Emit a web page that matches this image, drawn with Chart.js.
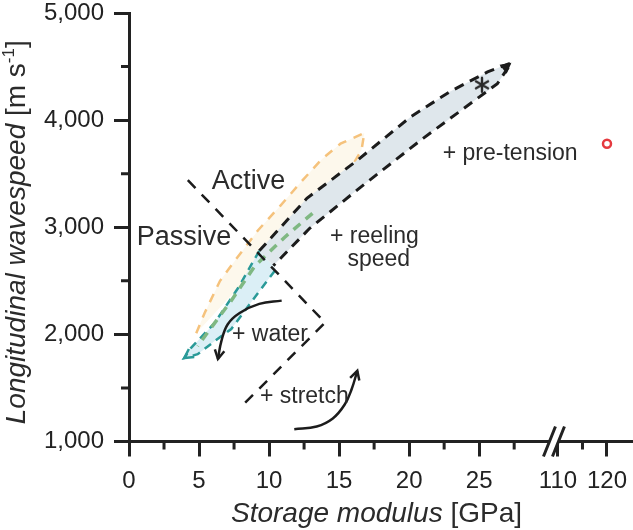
<!DOCTYPE html>
<html>
<head>
<meta charset="utf-8">
<script src="https://cdn.jsdelivr.net/npm/chart.js@4.4.1/dist/chart.umd.min.js"></script>
<style>
  html, body { margin: 0; padding: 0; background: #fff; }
</style>
</head>
<body>
<canvas id="graph" width="633" height="530"></canvas>
<script>
// storage modulus [GPa] vs longitudinal wavespeed [m/s]
const yTicks = [1000, 2000, 3000, 4000, 5000];
const yMinor = [1500, 2500, 3500, 4500];
const xTicks = [0, 5, 10, 15, 20, 25];
const xMinor = [2.5, 7.5, 12.5, 17.5, 22.5, 27.5];
const x2Ticks = [110, 120];
const x2Minor = [115];

// grey band (black dashed), upper edge -> tip -> lower edge
const bandX = [9.3, 12.7, 16.3, 20.1, 22.9, 25.6, 27.3, 26.3, 21.0, 16.5, 12.9, 10.3];
const bandY = [2780, 3270, 3625, 4030, 4265, 4450, 4535, 4340, 3830, 3370, 2990, 2640];
// passive region (teal dashed)
const passX = [9.3, 7.8, 6.1, 4.4, 3.95, 4.9, 6.05, 7.3, 8.8, 10.5];
const passY = [2780, 2435, 2105, 1870, 1780, 1815, 1930, 2050, 2315, 2610];
// active region (orange dashed)
const actX = [4.8, 5.4, 6.5, 7.4, 9.2, 10.8, 12.4, 13.8, 15.1, 16.8, 16.6, 16.1, 12.7, 9.3, 7.8, 6.1, 5.0];
const actY = [2010, 2200, 2500, 2660, 2970, 3200, 3440, 3640, 3780, 3880, 3720, 3610, 3270, 2780, 2435, 2105, 1890];
// green centre line
const midX = [13.1, 11.1, 9.0, 7.3, 5.6, 4.9];
const midY = [3130, 2905, 2640, 2315, 2015, 1890];
// active / passive divider
const divX = [4.2, 14.0, 7.9];
const divY = [3440, 2110, 1310];
// curved arrows
const waterX = [10.9, 9.3, 7.9, 7.05, 6.6, 6.35];
const waterY = [2315, 2285, 2200, 2095, 1940, 1770];
const stretchX = [11.8, 13.4, 14.55, 15.4, 15.9, 16.3];
const stretchY = [1115, 1140, 1215, 1345, 1490, 1660];
// single marks
const starX = [25.2], starY = [4330];
const redX = [120], redY = [3780];

const ink = '#222';
const txt = '#2b2b2b';
const fam = '"Liberation Sans", Arial, sans-serif';
Chart.defaults.font.family = fam;

const pts = (xs, ys) => xs.map((x, i) => ({ x: x, y: ys[i] }));

// asterisk marker
const star = document.createElement('canvas');
star.width = star.height = 20;
const sc = star.getContext('2d');
sc.strokeStyle = '#2a2a2a'; sc.lineWidth = 2.4; sc.lineCap = 'round';
sc.beginPath();
for (let k = 0; k < 3; k++) {
  const a = Math.PI / 2 + k * Math.PI / 3;
  sc.moveTo(10 - Math.cos(a) * 7, 10 - Math.sin(a) * 7);
  sc.lineTo(10 + Math.cos(a) * 7, 10 + Math.sin(a) * 7);
}
sc.stroke();

const notes = [
  { t: 'Active', x: 5.9, y: 3360, size: 27 },
  { t: 'Passive', x: 0.55, y: 2830, size: 27 },
  { t: '+ reeling', x: 14.35, y: 2855, size: 23 },
  { t: 'speed', x: 15.6, y: 2640, size: 23 },
  { t: '+ pre-tension', x: 22.4, y: 3625, size: 23 },
  { t: '+ water', x: 7.35, y: 1940, size: 23 },
  { t: '+ stretch', x: 9.35, y: 1355, size: 23 }
];

function head(ctx, tip, from, len, filled, color) {
  const a = Math.atan2(tip.y - from.y, tip.x - from.x), h = 0.5;
  ctx.strokeStyle = color; ctx.fillStyle = color; ctx.lineWidth = 2.5;
  ctx.setLineDash([]);
  ctx.beginPath();
  ctx.moveTo(tip.x - len * Math.cos(a - h), tip.y - len * Math.sin(a - h));
  ctx.lineTo(tip.x, tip.y);
  ctx.lineTo(tip.x - len * Math.cos(a + h), tip.y - len * Math.sin(a + h));
  if (filled) { ctx.closePath(); ctx.fill(); } else { ctx.stroke(); }
}

function runs(ctx, parts, x0, y0) {
  let w = 0;
  parts.forEach(p => { ctx.font = p.f; w += ctx.measureText(p.t).width; });
  let x = x0 - w / 2;
  parts.forEach(p => { ctx.font = p.f; ctx.fillText(p.t, x, y0 + (p.dy || 0)); x += ctx.measureText(p.t).width; });
}

const decor = {
  id: 'decor',
  afterDatasetsDraw(chart) {
    const { ctx, chartArea: a, scales } = chart;
    const { x, x2, y } = scales;
    ctx.save();

    // arrow heads
    const m = i => chart.getDatasetMeta(i).data;
    const band = m(1), pass = m(2), water = m(5), stretch = m(6);
    const mid = (p, q) => ({ x: (p.x + q.x) / 2, y: (p.y + q.y) / 2 });
    head(ctx, band[6], mid(band[5], band[7]), 12, true, '#1c1c1c');
    head(ctx, pass[4], mid(pass[3], pass[5]), 10, false, '#2a9a98');
    head(ctx, water[water.length - 1], water[water.length - 2], 10, false, '#1c1c1c');
    head(ctx, stretch[stretch.length - 1], stretch[stretch.length - 2], 10, false, '#1c1c1c');

    // minor ticks
    ctx.strokeStyle = ink; ctx.lineWidth = 3;
    ctx.beginPath();
    yMinor.forEach(v => { const p = y.getPixelForValue(v); ctx.moveTo(a.left - 8, p); ctx.lineTo(a.left, p); });
    xMinor.forEach(v => { const p = x.getPixelForValue(v); ctx.moveTo(p, a.bottom); ctx.lineTo(p, a.bottom + 8); });
    x2Minor.forEach(v => { const p = x2.getPixelForValue(v); ctx.moveTo(p, a.bottom); ctx.lineTo(p, a.bottom + 8); });
    ctx.stroke();

    // axis break
    const bx = x.right, by = a.bottom, s = 0.4;
    ctx.fillStyle = '#fff';
    ctx.beginPath();
    ctx.moveTo(bx - 4.5 + s * 3, by - 3); ctx.lineTo(bx + 4.5 + s * 3, by - 3);
    ctx.lineTo(bx + 4.5 - s * 3, by + 3); ctx.lineTo(bx - 4.5 - s * 3, by + 3);
    ctx.closePath(); ctx.fill();
    ctx.beginPath();
    [-4.5, 4.5].forEach(o => {
      ctx.moveTo(bx + o - s * 15, by + 15); ctx.lineTo(bx + o + s * 15, by - 15);
    });
    ctx.stroke();

    // annotations
    ctx.fillStyle = txt; ctx.textBaseline = 'alphabetic'; ctx.textAlign = 'left';
    notes.forEach(n => {
      ctx.font = n.size + 'px ' + fam;
      ctx.fillText(n.t, x.getPixelForValue(n.x), y.getPixelForValue(n.y));
    });

    // axis titles
    const big = '28px ' + fam, it = 'italic 28px ' + fam, sup = '17px ' + fam;
    runs(ctx, [{ t: 'Storage modulus', f: it }, { t: ' [GPa]', f: big }], (a.left + a.right) / 2 - 4, 522);
    ctx.translate(25, (a.top + a.bottom) / 2 + 5);
    ctx.rotate(-Math.PI / 2);
    runs(ctx, [{ t: 'Longitudinal wavespeed', f: it }, { t: ' [m s', f: big },
               { t: '-1', f: sup, dy: -11 }, { t: ']', f: big }], 0, 0);
    ctx.restore();
  }
};

const tickFont = { size: 24, family: fam };
const xScale = (min, max, ticks, weight) => ({
  type: 'linear', position: 'bottom', stack: 'xb', stackWeight: weight,
  min: min, max: max,
  afterBuildTicks: s => { s.ticks = ticks.map(v => ({ value: v })); },
  afterFit: s => { s.height = 50.5; s.paddingLeft = 0; s.paddingRight = 0; },
  ticks: { font: tickFont, color: ink, padding: 10, autoSkip: false, maxRotation: 0, callback: v => String(v) },
  grid: { drawOnChartArea: false, tickLength: 15, tickWidth: 3, tickColor: ink },
  border: { width: 3, color: ink }
});

const line = (xs, ys, extra) => Object.assign({
  data: pts(xs, ys), showLine: true, pointRadius: 0, fill: false, tension: 0
}, extra);

new Chart(document.getElementById('graph'), {
  type: 'scatter',
  data: {
    datasets: [
      line(actX, actY, {
        order: 6, fill: 'shape', backgroundColor: '#fdf8ec', borderColor: '#f5c27c',
        borderWidth: 2.5, borderDash: [9, 8],
        segment: { borderColor: c => c.p0DataIndex <= 10 ? '#f5c27c' : 'rgba(0,0,0,0)' }
      }),
      line(bandX, bandY, {
        order: 5, fill: 'shape', backgroundColor: '#dfe7ec', borderColor: '#1c1c1c',
        borderWidth: 3, borderDash: [10, 7]
      }),
      line(passX, passY, {
        order: 4, fill: 'shape', backgroundColor: '#dbeff6', borderColor: '#2a9a98',
        borderWidth: 2.5, borderDash: [8, 6]
      }),
      line(midX, midY, { order: 3, borderColor: '#7fb882', borderWidth: 3.5, borderDash: [9, 7] }),
      line(divX, divY, { order: 2, borderColor: '#1c1c1c', borderWidth: 2.5, borderDash: [11, 9] }),
      line(waterX, waterY, { order: 2, borderColor: '#1c1c1c', borderWidth: 2.5, tension: 0.4 }),
      line(stretchX, stretchY, { order: 2, borderColor: '#1c1c1c', borderWidth: 2.5, tension: 0.4 }),
      { data: pts(starX, starY), order: 1, pointStyle: star, pointRadius: 8 },
      { data: pts(redX, redY), xAxisID: 'x2', order: 0, pointStyle: 'circle', pointRadius: 4,
        borderWidth: 2.5, borderColor: '#e53a3f', backgroundColor: '#fff' }
    ]
  },
  options: {
    responsive: false,
    animation: false,
    devicePixelRatio: 1,
    layout: { autoPadding: false, padding: { left: 40, right: 1, top: 0, bottom: 38 } },
    plugins: { legend: { display: false }, tooltip: { enabled: false } },
    scales: {
      x: xScale(0, 30.34, xTicks, 424.7),
      x2: xScale(109.18, 125.1, x2Ticks, 78),
      y: {
        type: 'linear', position: 'left', min: 1000, max: 5000,
        afterBuildTicks: s => { s.ticks = yTicks.map(v => ({ value: v })); },
        afterFit: s => { s.width = 89; s.paddingTop = 13; s.paddingBottom = 0; },
        ticks: { font: tickFont, color: ink, padding: 10, callback: v => v.toLocaleString('en-US') },
        grid: { drawOnChartArea: false, tickLength: 15, tickWidth: 3, tickColor: ink },
        border: { width: 3, color: ink }
      }
    }
  },
  plugins: [decor]
});
</script>
</body>
</html>
